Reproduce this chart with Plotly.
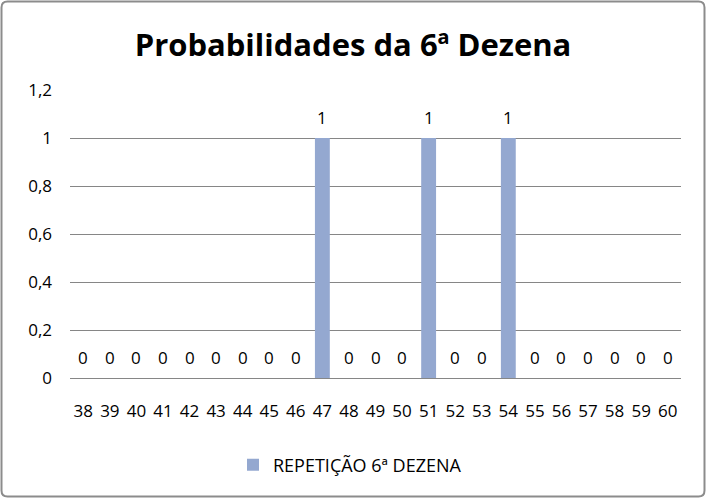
import plotly.graph_objects as go

categories = [str(n) for n in range(38, 61)]
values = [0, 0, 0, 0, 0, 0, 0, 0, 0, 1, 0, 0, 0, 1, 0, 0, 1, 0, 0, 0, 0, 0, 0]
series_name = "REPETIÇÃO 6ª DEZENA"
title_text = "Probabilidades da 6ª Dezena"
y_ticks = [0, 0.2, 0.4, 0.6, 0.8, 1.0, 1.2]

W, H = 706, 498
L, R, T, B = 70, 25, 90, 120
pw, ph = W - L - R, H - T - B

def px_x(p):
    return (p - L) / pw

def px_y(p):
    return (H - B - p) / ph

FONT = "Open Sans"
bar_color = "#94A8D0"

fig = go.Figure()
fig.add_trace(go.Bar(
    x=categories, y=values, name=series_name,
    marker=dict(color=bar_color, line=dict(width=0)),
    width=0.56, showlegend=True,
))

annotations = []
for i, v in enumerate(values):
    annotations.append(dict(
        x=i, y=v, xref="x", yref="y", text=str(v), showarrow=False,
        yshift=21, font=dict(family=FONT, size=17, color="#000000"),
    ))

# rounded border path in paper coordinates
x0, x1, y0, y1, r = 1.5, W - 1.5, 1.5, H - 1.5, 6
def P(x, y):
    return f"{px_x(x):.5f},{px_y(y):.5f}"
border_path = (
    f"M {P(x0 + r, y0)} L {P(x1 - r, y0)} Q {P(x1, y0)} {P(x1, y0 + r)} "
    f"L {P(x1, y1 - r)} Q {P(x1, y1)} {P(x1 - r, y1)} "
    f"L {P(x0 + r, y1)} Q {P(x0, y1)} {P(x0, y1 - r)} "
    f"L {P(x0, y0 + r)} Q {P(x0, y0)} {P(x0 + r, y0)} Z"
)

fig.update_layout(
    width=W, height=H,
    margin=dict(l=L, r=R, t=T, b=B, pad=0),
    paper_bgcolor="white", plot_bgcolor="white",
    separators=",.",
    title=dict(text=title_text, x=0.5, xanchor="center", xref="container",
               y=1 - 45 / H, yanchor="middle", yref="container",
               font=dict(family=FONT, size=31, color="#000000", weight="bold")),
    xaxis=dict(type="category", range=[-0.5, len(categories) - 0.5],
               showgrid=False, showline=False, ticks="",
               tickfont=dict(family=FONT, size=17, color="#000000"),
               ticklabelstandoff=21),
    yaxis=dict(range=[0, 1.2], tickvals=y_ticks, showgrid=True,
               gridcolor="#868686", gridwidth=1, zeroline=True,
               zerolinecolor="#868686", zerolinewidth=1, showline=False,
               ticks="", tickfont=dict(family=FONT, size=17, color="#000000"),
               ticklabelstandoff=17),
    legend=dict(orientation="h", x=px_x(233), xanchor="left", xref="paper",
                y=px_y(465), yanchor="middle",
                font=dict(family=FONT, size=18, color="#000000"),
                itemwidth=30),
    annotations=annotations,
    shapes=[dict(type="path", xref="paper", yref="paper", path=border_path,
                 line=dict(color="#8C8C8C", width=2), layer="above")],
)

fig.write_html("out.html")
